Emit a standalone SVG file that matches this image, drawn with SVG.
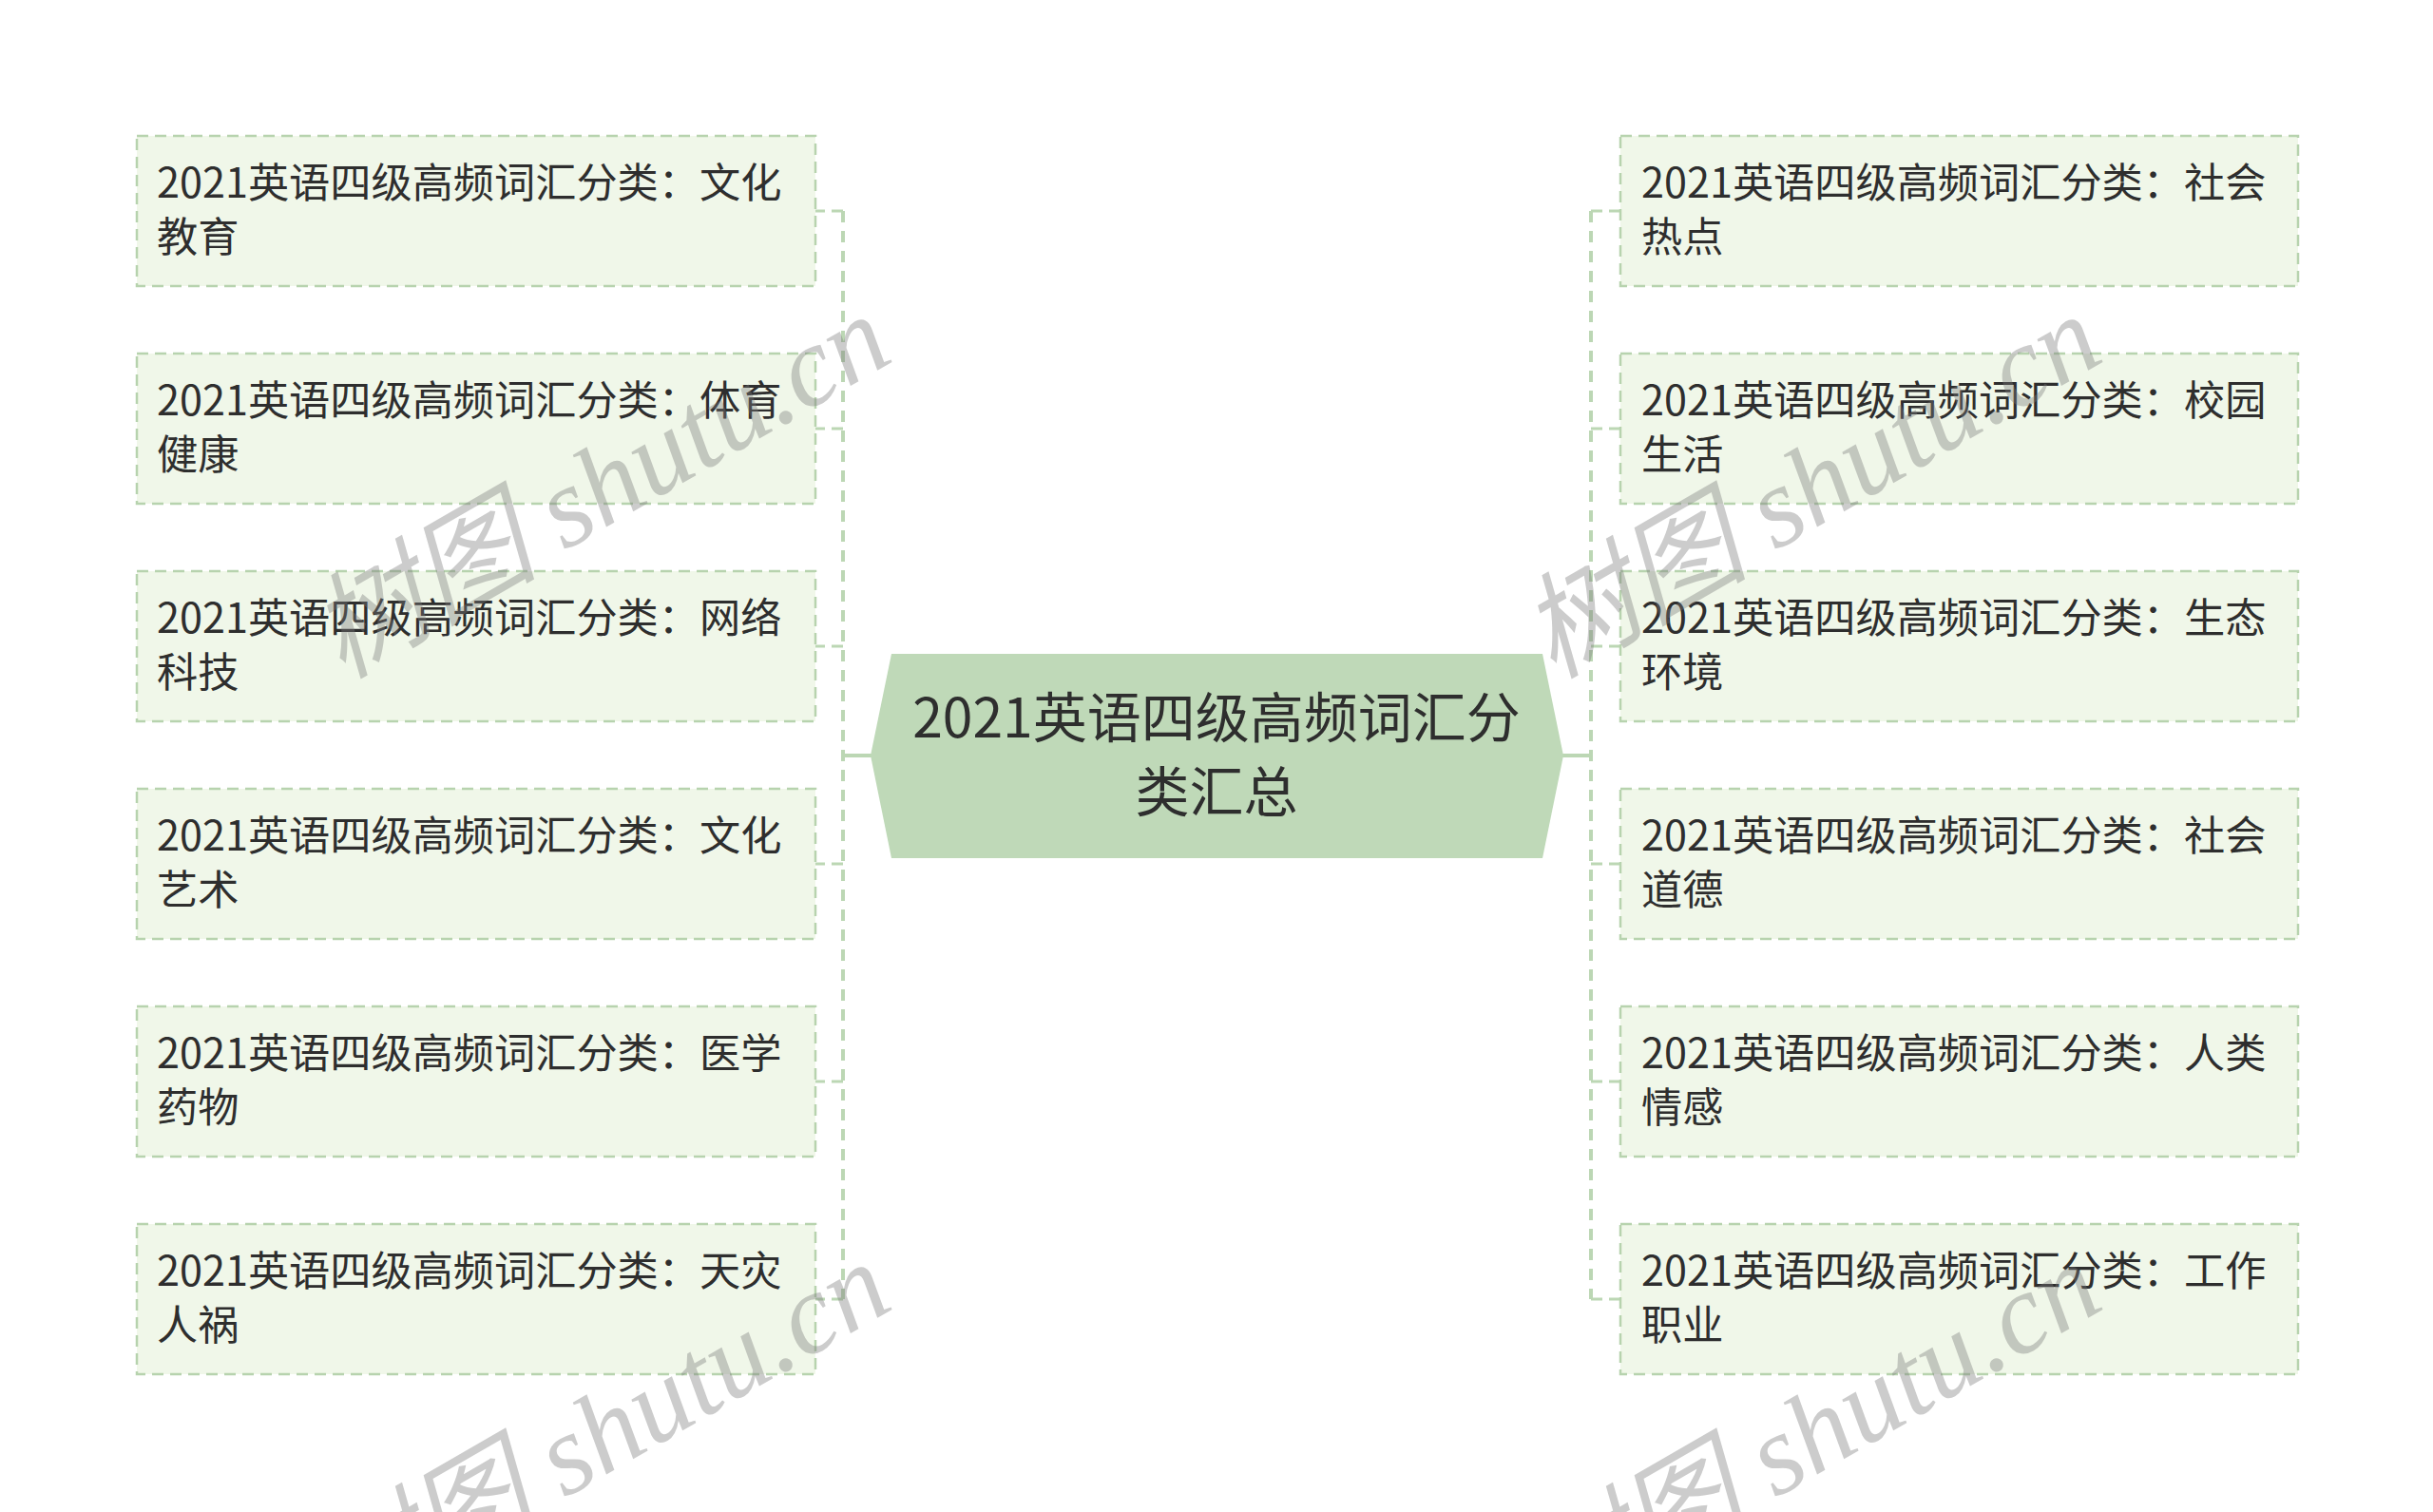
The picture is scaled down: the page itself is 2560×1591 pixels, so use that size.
<svg xmlns="http://www.w3.org/2000/svg" width="2560" height="1591" viewBox="0 0 2560 1591">
<defs>
<style>
.box{fill:#f0f7e9;stroke:#b7d3ae;stroke-width:2.5;stroke-dasharray:12 7}
.t{font-family:"Noto Sans CJK SC","Noto Sans",sans-serif;font-size:43.2px;fill:#2e2e2e}
.ct{font-family:"Noto Sans CJK SC","Noto Sans",sans-serif;font-size:57px;fill:#2e2e2e;text-anchor:middle}
.trunk{fill:none;stroke:#bcd7b4;stroke-width:4;stroke-dasharray:12 9}
.stub{fill:none;stroke:#bcd7b4;stroke-width:3;stroke-dasharray:12 7}
.root{fill:none;stroke:#bcd7b4;stroke-width:4}
.wm{font-family:"Liberation Serif","Noto Sans CJK SC",serif;font-style:italic;font-size:120px;fill:#7a7a7a;opacity:0.38}
</style>
</defs>
<rect width="2560" height="1591" fill="#ffffff"/>
<g id="connectors">
<line class="root" x1="887" y1="795" x2="917" y2="795"/>
<line class="root" x1="1644" y1="795" x2="1674" y2="795"/>
<line class="trunk" x1="887" y1="222" x2="887" y2="1367"/>
<line class="trunk" x1="1674" y1="222" x2="1674" y2="1367"/>
<line class="stub" x1="887" y1="222" x2="858" y2="222"/>
<line class="stub" x1="887" y1="451" x2="858" y2="451"/>
<line class="stub" x1="887" y1="680" x2="858" y2="680"/>
<line class="stub" x1="887" y1="909" x2="858" y2="909"/>
<line class="stub" x1="887" y1="1138" x2="858" y2="1138"/>
<line class="stub" x1="887" y1="1367" x2="858" y2="1367"/>
<line class="stub" x1="1674" y1="222" x2="1705" y2="222"/>
<line class="stub" x1="1674" y1="451" x2="1705" y2="451"/>
<line class="stub" x1="1674" y1="680" x2="1705" y2="680"/>
<line class="stub" x1="1674" y1="909" x2="1705" y2="909"/>
<line class="stub" x1="1674" y1="1138" x2="1705" y2="1138"/>
<line class="stub" x1="1674" y1="1367" x2="1705" y2="1367"/>
</g>
<g id="root">
<polygon points="916,795 938,688 1623,688 1645,795 1623,903 938,903" fill="#bfd9b8"/>
<text class="ct" x="1280" y="776">2021英语四级高频词汇分</text>
<text class="ct" x="1280" y="854">类汇总</text>
</g>
<g id="L1"><rect class="box" x="144" y="143" width="714" height="158"/><text class="t" x="165" y="208">2021英语四级高频词汇分类：文化</text><text class="t" x="165" y="265">教育</text></g>
<g id="L2"><rect class="box" x="144" y="372" width="714" height="158"/><text class="t" x="165" y="437">2021英语四级高频词汇分类：体育</text><text class="t" x="165" y="494">健康</text></g>
<g id="L3"><rect class="box" x="144" y="601" width="714" height="158"/><text class="t" x="165" y="666">2021英语四级高频词汇分类：网络</text><text class="t" x="165" y="723">科技</text></g>
<g id="L4"><rect class="box" x="144" y="830" width="714" height="158"/><text class="t" x="165" y="895">2021英语四级高频词汇分类：文化</text><text class="t" x="165" y="952">艺术</text></g>
<g id="L5"><rect class="box" x="144" y="1059" width="714" height="158"/><text class="t" x="165" y="1124">2021英语四级高频词汇分类：医学</text><text class="t" x="165" y="1181">药物</text></g>
<g id="L6"><rect class="box" x="144" y="1288" width="714" height="158"/><text class="t" x="165" y="1353">2021英语四级高频词汇分类：天灾</text><text class="t" x="165" y="1410">人祸</text></g>
<g id="R1"><rect class="box" x="1705" y="143" width="713" height="158"/><text class="t" x="1727" y="208">2021英语四级高频词汇分类：社会</text><text class="t" x="1727" y="265">热点</text></g>
<g id="R2"><rect class="box" x="1705" y="372" width="713" height="158"/><text class="t" x="1727" y="437">2021英语四级高频词汇分类：校园</text><text class="t" x="1727" y="494">生活</text></g>
<g id="R3"><rect class="box" x="1705" y="601" width="713" height="158"/><text class="t" x="1727" y="666">2021英语四级高频词汇分类：生态</text><text class="t" x="1727" y="723">环境</text></g>
<g id="R4"><rect class="box" x="1705" y="830" width="713" height="158"/><text class="t" x="1727" y="895">2021英语四级高频词汇分类：社会</text><text class="t" x="1727" y="952">道德</text></g>
<g id="R5"><rect class="box" x="1705" y="1059" width="713" height="158"/><text class="t" x="1727" y="1124">2021英语四级高频词汇分类：人类</text><text class="t" x="1727" y="1181">情感</text></g>
<g id="R6"><rect class="box" x="1705" y="1288" width="713" height="158"/><text class="t" x="1727" y="1353">2021英语四级高频词汇分类：工作</text><text class="t" x="1727" y="1410">职业</text></g>
<g id="watermarks">
<text class="wm" transform="translate(360,715) rotate(-30)">树图 shutu.cn</text>
<text class="wm" transform="translate(1634,715) rotate(-30)">树图 shutu.cn</text>
<text class="wm" transform="translate(360,1712) rotate(-30)">树图 shutu.cn</text>
<text class="wm" transform="translate(1634,1712) rotate(-30)">树图 shutu.cn</text>
</g>
</svg>
